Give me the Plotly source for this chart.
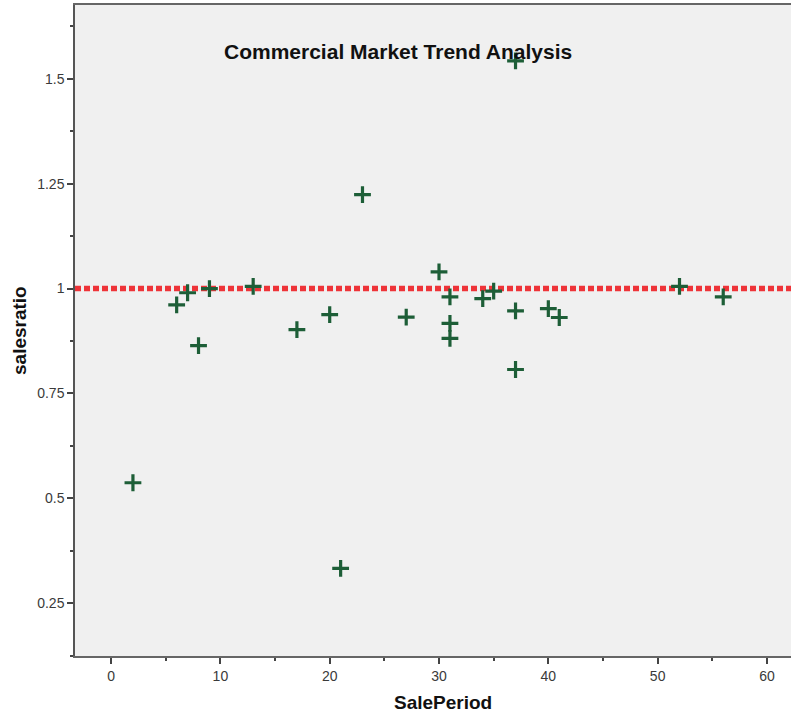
import plotly.graph_objects as go

sale_period = [2, 6, 7, 8, 9, 13, 17, 20, 21, 23, 27, 30, 31, 31, 31, 34, 35, 37, 37, 37, 40, 41, 52, 56]
sales_ratio = [0.537, 0.961, 0.99, 0.864, 1.0, 1.005, 0.902, 0.938, 0.333, 1.224, 0.932, 1.040,
               0.980, 0.917, 0.881, 0.976, 0.994, 1.543, 0.947, 0.807, 0.952, 0.931, 1.005, 0.980]
reference_ratio = 1.0
x_ticks = [0, 10, 20, 30, 40, 50, 60]
y_ticks = [0.25, 0.5, 0.75, 1.0, 1.25, 1.5]
y_tick_labels = ["0.25", "0.5", "0.75", "1", "1.25", "1.5"]

W, H = 791, 715
L, R, T, B = 75, 0, 5, 59

fig = go.Figure()
fig.add_trace(go.Scatter(
    x=sale_period, y=sales_ratio, mode="markers",
    marker=dict(symbol="cross-thin", size=12, line=dict(width=3.2, color="#1d5e37"), color="#1d5e37"),
    showlegend=False, hoverinfo="x+y",
))

fig.add_shape(type="line", xref="paper", x0=0, x1=1, yref="y", y0=reference_ratio, y1=reference_ratio,
              line=dict(color="#ee3338", width=5.5, dash="6px,3px"), layer="below")

font_main = "Liberation Sans, Arial, sans-serif"

fig.update_layout(
    width=W, height=H,
    margin=dict(l=L, r=R, t=T, b=B),
    paper_bgcolor="white",
    plot_bgcolor="#f0f0f0",
    font=dict(family=font_main, size=12, color="#333333"),
    xaxis=dict(
        range=[-3.3, 62.2], tickvals=x_ticks, ticks="outside", ticklen=6, tickwidth=2, tickcolor="#444",
        showgrid=False, zeroline=False, showline=True, linecolor="#666", linewidth=1.5, mirror=True,
        minor=dict(dtick=5, tick0=0, ticks="outside", ticklen=3, tickwidth=1.5, tickcolor="#444", showgrid=False),
        tickfont=dict(size=14, color="#3a3a3a"),
    ),
    yaxis=dict(
        range=[0.124, 1.676], tickvals=y_ticks, ticktext=y_tick_labels, ticks="outside", ticklen=6,
        tickwidth=2, tickcolor="#444",
        showgrid=False, zeroline=False, showline=True, linecolor="#555", linewidth=1.5, mirror=False,
        minor=dict(dtick=0.125, tick0=0, ticks="outside", ticklen=3, tickwidth=1.5, tickcolor="#444", showgrid=False),
        tickfont=dict(size=14, color="#3a3a3a"),
    ),
    annotations=[
        dict(text="<b>Commercial Market Trend Analysis</b>", xref="paper", yref="paper",
             x=(398 - L) / (W - L - R), y=(H - B - 52) / (H - B - T), xanchor="center", yanchor="middle",
             showarrow=False, font=dict(family=font_main, size=21, color="#111")),
        dict(text="<b>SalePeriod</b>", xref="paper", yref="paper",
             x=(443 - L) / (W - L - R), y=-(702 - (H - B)) / (H - B - T), xanchor="center", yanchor="middle",
             showarrow=False, font=dict(family=font_main, size=19, color="#111")),
        dict(text="<b>salesratio</b>", xref="paper", yref="paper", textangle=-90,
             x=-(L - 19) / (W - L - R), y=(H - B - 331) / (H - B - T), xanchor="center", yanchor="middle",
             showarrow=False, font=dict(family=font_main, size=19, color="#111")),
    ],
)

fig.write_html("out.html", config={"displayModeBar": False},
               post_script="document.body.style.margin='0px';document.body.style.overflow='hidden';")
